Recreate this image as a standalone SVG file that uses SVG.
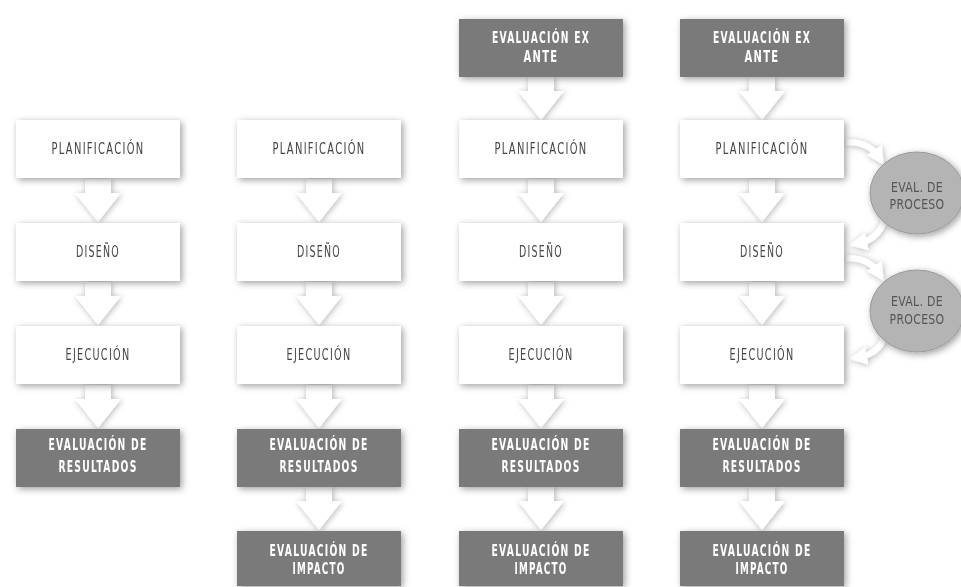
<svg xmlns="http://www.w3.org/2000/svg" width="961" height="587" viewBox="0 0 961 587">
<defs>
<filter id="sh" x="-20%" y="-30%" width="140%" height="160%">
<feDropShadow dx="2" dy="2" stdDeviation="3.5" flood-color="#000" flood-opacity="0.38"/>
</filter>
<filter id="sha" x="-50%" y="-50%" width="200%" height="200%">
<feDropShadow dx="1" dy="1" stdDeviation="3" flood-color="#000" flood-opacity="0.3"/>
</filter>
<marker id="ah" viewBox="0 0 10 10" refX="4" refY="5" markerWidth="3" markerHeight="3" orient="auto" markerUnits="strokeWidth">
<path d="M0,0 L10,5 L0,10 z" fill="#fff"/>
</marker>
<g id="arr">
<rect x="-13" y="0" width="26" height="15" fill="#fff"/>
<polygon points="-23,14 23,14 0,43" fill="#fff"/>
</g>
</defs>
<style>
.w{fill:#fff}
.d{fill:#7a7a7a}
.tw{font-family:"DejaVu Sans",sans-serif;font-size:15px;letter-spacing:2px;fill:#454545;text-anchor:middle}
.td{font-family:"DejaVu Sans",sans-serif;font-size:15px;font-weight:bold;letter-spacing:2px;fill:#fff;text-anchor:middle}
.tc{font-family:"DejaVu Sans",sans-serif;font-size:14px;letter-spacing:0.4px;fill:#555;text-anchor:middle}
.ca{fill:none;stroke:#fff;stroke-width:6;marker-end:url(#ah)}
</style>
<rect width="961" height="587" fill="#fff"/>

<g id="connectors" filter="url(#sha)">
<use href="#arr" x="98" y="179"/>
<use href="#arr" x="98" y="282"/>
<use href="#arr" x="98" y="385"/>
<use href="#arr" x="319" y="179"/>
<use href="#arr" x="319" y="282"/>
<use href="#arr" x="319" y="385"/>
<use href="#arr" x="319" y="487"/>
<use href="#arr" x="541" y="77"/>
<use href="#arr" x="541" y="179"/>
<use href="#arr" x="541" y="282"/>
<use href="#arr" x="541" y="385"/>
<use href="#arr" x="541" y="487"/>
<use href="#arr" x="762" y="77"/>
<use href="#arr" x="762" y="179"/>
<use href="#arr" x="762" y="282"/>
<use href="#arr" x="762" y="385"/>
<use href="#arr" x="762" y="487"/>
<path class="ca" d="M846,142 Q869,142 878,156"/>
<path class="ca" d="M884,221 Q878,239 860,243"/>
<path class="ca" d="M846,258 Q869,258 878,272"/>
<path class="ca" d="M884,338 Q878,354 860,357"/>
</g>

<g id="c1-plan" filter="url(#sh)"><rect class="w" x="16" y="120" width="164" height="58"/><text class="tw" x="98" y="154" textLength="93" lengthAdjust="spacingAndGlyphs">PLANIFICACIÓN</text></g>
<g id="c1-dis" filter="url(#sh)"><rect class="w" x="16" y="223" width="164" height="58"/><text class="tw" x="98" y="257" textLength="44" lengthAdjust="spacingAndGlyphs">DISEÑO</text></g>
<g id="c1-eje" filter="url(#sh)"><rect class="w" x="16" y="326" width="164" height="58"/><text class="tw" x="98" y="360" textLength="65" lengthAdjust="spacingAndGlyphs">EJECUCIÓN</text></g>
<g id="c1-res" filter="url(#sh)"><rect class="d" x="16" y="429" width="164" height="58"/><text class="td" x="98" y="450" textLength="99" lengthAdjust="spacingAndGlyphs">EVALUACIÓN DE</text><text class="td" x="98" y="472" textLength="79" lengthAdjust="spacingAndGlyphs">RESULTADOS</text></g>

<g id="c2-plan" filter="url(#sh)"><rect class="w" x="237" y="120" width="164" height="58"/><text class="tw" x="319" y="154" textLength="93" lengthAdjust="spacingAndGlyphs">PLANIFICACIÓN</text></g>
<g id="c2-dis" filter="url(#sh)"><rect class="w" x="237" y="223" width="164" height="58"/><text class="tw" x="319" y="257" textLength="44" lengthAdjust="spacingAndGlyphs">DISEÑO</text></g>
<g id="c2-eje" filter="url(#sh)"><rect class="w" x="237" y="326" width="164" height="58"/><text class="tw" x="319" y="360" textLength="65" lengthAdjust="spacingAndGlyphs">EJECUCIÓN</text></g>
<g id="c2-res" filter="url(#sh)"><rect class="d" x="237" y="429" width="164" height="58"/><text class="td" x="319" y="450" textLength="99" lengthAdjust="spacingAndGlyphs">EVALUACIÓN DE</text><text class="td" x="319" y="472" textLength="79" lengthAdjust="spacingAndGlyphs">RESULTADOS</text></g>
<g id="c2-imp" filter="url(#sh)"><rect class="d" x="237" y="531" width="164" height="55"/><text class="td" x="319" y="556" textLength="99" lengthAdjust="spacingAndGlyphs">EVALUACIÓN DE</text><text class="td" x="319" y="574" textLength="53" lengthAdjust="spacingAndGlyphs">IMPACTO</text></g>

<g id="c3-ante" filter="url(#sh)"><rect class="d" x="459" y="19" width="164" height="58"/><text class="td" x="541" y="43" textLength="98" lengthAdjust="spacingAndGlyphs">EVALUACIÓN EX</text><text class="td" x="541" y="62" textLength="35" lengthAdjust="spacingAndGlyphs">ANTE</text></g>
<g id="c3-plan" filter="url(#sh)"><rect class="w" x="459" y="120" width="164" height="58"/><text class="tw" x="541" y="154" textLength="93" lengthAdjust="spacingAndGlyphs">PLANIFICACIÓN</text></g>
<g id="c3-dis" filter="url(#sh)"><rect class="w" x="459" y="223" width="164" height="58"/><text class="tw" x="541" y="257" textLength="44" lengthAdjust="spacingAndGlyphs">DISEÑO</text></g>
<g id="c3-eje" filter="url(#sh)"><rect class="w" x="459" y="326" width="164" height="58"/><text class="tw" x="541" y="360" textLength="65" lengthAdjust="spacingAndGlyphs">EJECUCIÓN</text></g>
<g id="c3-res" filter="url(#sh)"><rect class="d" x="459" y="429" width="164" height="58"/><text class="td" x="541" y="450" textLength="99" lengthAdjust="spacingAndGlyphs">EVALUACIÓN DE</text><text class="td" x="541" y="472" textLength="79" lengthAdjust="spacingAndGlyphs">RESULTADOS</text></g>
<g id="c3-imp" filter="url(#sh)"><rect class="d" x="459" y="531" width="164" height="55"/><text class="td" x="541" y="556" textLength="99" lengthAdjust="spacingAndGlyphs">EVALUACIÓN DE</text><text class="td" x="541" y="574" textLength="53" lengthAdjust="spacingAndGlyphs">IMPACTO</text></g>

<g id="c4-ante" filter="url(#sh)"><rect class="d" x="680" y="19" width="164" height="58"/><text class="td" x="762" y="43" textLength="98" lengthAdjust="spacingAndGlyphs">EVALUACIÓN EX</text><text class="td" x="762" y="62" textLength="35" lengthAdjust="spacingAndGlyphs">ANTE</text></g>
<g id="c4-plan" filter="url(#sh)"><rect class="w" x="680" y="120" width="164" height="58"/><text class="tw" x="762" y="154" textLength="93" lengthAdjust="spacingAndGlyphs">PLANIFICACIÓN</text></g>
<g id="c4-dis" filter="url(#sh)"><rect class="w" x="680" y="223" width="164" height="58"/><text class="tw" x="762" y="257" textLength="44" lengthAdjust="spacingAndGlyphs">DISEÑO</text></g>
<g id="c4-eje" filter="url(#sh)"><rect class="w" x="680" y="326" width="164" height="58"/><text class="tw" x="762" y="360" textLength="65" lengthAdjust="spacingAndGlyphs">EJECUCIÓN</text></g>
<g id="c4-res" filter="url(#sh)"><rect class="d" x="680" y="429" width="164" height="58"/><text class="td" x="762" y="450" textLength="99" lengthAdjust="spacingAndGlyphs">EVALUACIÓN DE</text><text class="td" x="762" y="472" textLength="79" lengthAdjust="spacingAndGlyphs">RESULTADOS</text></g>
<g id="c4-imp" filter="url(#sh)"><rect class="d" x="680" y="531" width="164" height="55"/><text class="td" x="762" y="556" textLength="99" lengthAdjust="spacingAndGlyphs">EVALUACIÓN DE</text><text class="td" x="762" y="574" textLength="53" lengthAdjust="spacingAndGlyphs">IMPACTO</text></g>

<g id="proc1" filter="url(#sh)"><ellipse cx="917" cy="193" rx="47" ry="41" fill="#b4b4b4" stroke="#9a9a9a" stroke-width="1"/><text class="tc" x="917" y="192" textLength="52" lengthAdjust="spacingAndGlyphs">EVAL. DE</text><text class="tc" x="917" y="209" textLength="55" lengthAdjust="spacingAndGlyphs">PROCESO</text></g>
<g id="proc2" filter="url(#sh)"><ellipse cx="917" cy="311" rx="47" ry="41" fill="#b4b4b4" stroke="#9a9a9a" stroke-width="1"/><text class="tc" x="917" y="306" textLength="52" lengthAdjust="spacingAndGlyphs">EVAL. DE</text><text class="tc" x="917" y="324" textLength="55" lengthAdjust="spacingAndGlyphs">PROCESO</text></g>
</svg>
